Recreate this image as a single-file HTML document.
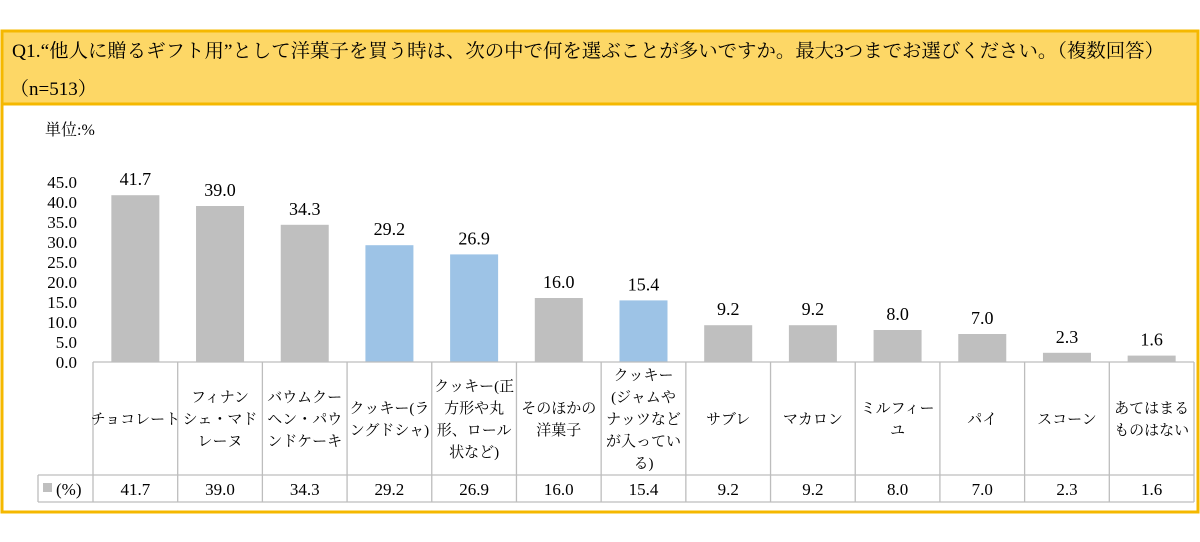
<!DOCTYPE html>
<html><head><meta charset="utf-8"><style>
body{margin:0;background:#fff;}
svg{display:block;font-family:"Liberation Serif","Noto Serif CJK JP","Noto Serif CJK SC",serif;}
</style></head><body>
<svg width="1200" height="542" viewBox="0 0 1200 542">
<rect x="2" y="31" width="1196" height="73" fill="#fdd766"/>
<rect x="2" y="31" width="1196" height="481" fill="none" stroke="#f5b800" stroke-width="3"/>
<line x1="2" y1="104" x2="1198" y2="104" stroke="#f5b800" stroke-width="3"/>
<text x="12" y="57" font-size="19" textLength="1152" lengthAdjust="spacingAndGlyphs">Q1.“他人に贈るギフト用”として洋菓子を買う時は、次の中で何を選ぶことが多いですか。最大3つまでお選びください。（複数回答）</text>
<text x="10" y="95" font-size="19">（n=513）</text>
<text x="45" y="135" font-size="16">単位:%</text>
<g id="g"></g>
</svg>
<script>
const categories=[["チョコレート"],["フィナン","シェ・マド","レーヌ"],["バウムクー","ヘン・パウ","ンドケーキ"],["クッキー(ラ","ングドシャ)"],["クッキー(正","方形や丸","形、ロール","状など)"],["そのほかの","洋菓子"],["クッキー","(ジャムや","ナッツなど","が入ってい","る)"],["サブレ"],["マカロン"],["ミルフィー","ユ"],["パイ"],["スコーン"],["あてはまる","ものはない"]];
const values=[41.7,39.0,34.3,29.2,26.9,16.0,15.4,9.2,9.2,8.0,7.0,2.3,1.6];
const highlighted=[3,4,6];
const yTicks=[0,5,10,15,20,25,30,35,40,45];
const NS="http://www.w3.org/2000/svg";
const g=document.getElementById('g');
const x0=93,colW=(1194-93)/categories.length,yBase=362,pxPer=4;
const y=v=>yBase-v*pxPer;
const xc=i=>x0+colW*(i+0.5);
function mk(t,a,txt){const e=document.createElementNS(NS,t);for(const k in a)e.setAttribute(k,a[k]);if(txt!=null)e.textContent=txt;g.appendChild(e);return e;}
yTicks.forEach(t=>{const e=mk('text',{x:77,y:y(t)+6,'font-size':17,'text-anchor':'end'},t.toFixed(1));

});
values.forEach((v,i)=>{
const b=mk('rect',{x:xc(i)-24,y:y(v),width:48,height:v*pxPer,fill:highlighted.includes(i)?'#9dc3e6':'#bfbfbf'});


const l=mk('text',{x:xc(i),y:y(v)-10,'font-size':18,'text-anchor':'middle'},v.toFixed(1));


});
const st={stroke:'#bdbdbd','stroke-width':1.3,fill:'none'};
mk('line',Object.assign({x1:x0,y1:yBase,x2:1194,y2:yBase},st));
mk('line',Object.assign({x1:38,y1:475,x2:1194,y2:475},st));
mk('line',Object.assign({x1:38,y1:502,x2:1194,y2:502},st));
mk('line',Object.assign({x1:38,y1:475,x2:38,y2:502},st));
for(let i=0;i<=categories.length;i++)mk('line',Object.assign({x1:x0+colW*i,y1:yBase,x2:x0+colW*i,y2:502},st));
categories.forEach((lines,i)=>{
const lh=22,start=419-(lines.length-1)*lh/2;
lines.forEach((s,j)=>{const t=mk('text',{x:xc(i),y:start+j*lh+5,'font-size':15,'text-anchor':'middle'},s);

});
const v=mk('text',{x:xc(i),y:495,'font-size':17,'text-anchor':'middle'},values[i].toFixed(1));


});
const lg=mk('rect',{x:43,y:483,width:9,height:9,fill:'#bfbfbf'});


const lt=mk('text',{x:56,y:495,'font-size':17},'(%)');


</script>
</body></html>
